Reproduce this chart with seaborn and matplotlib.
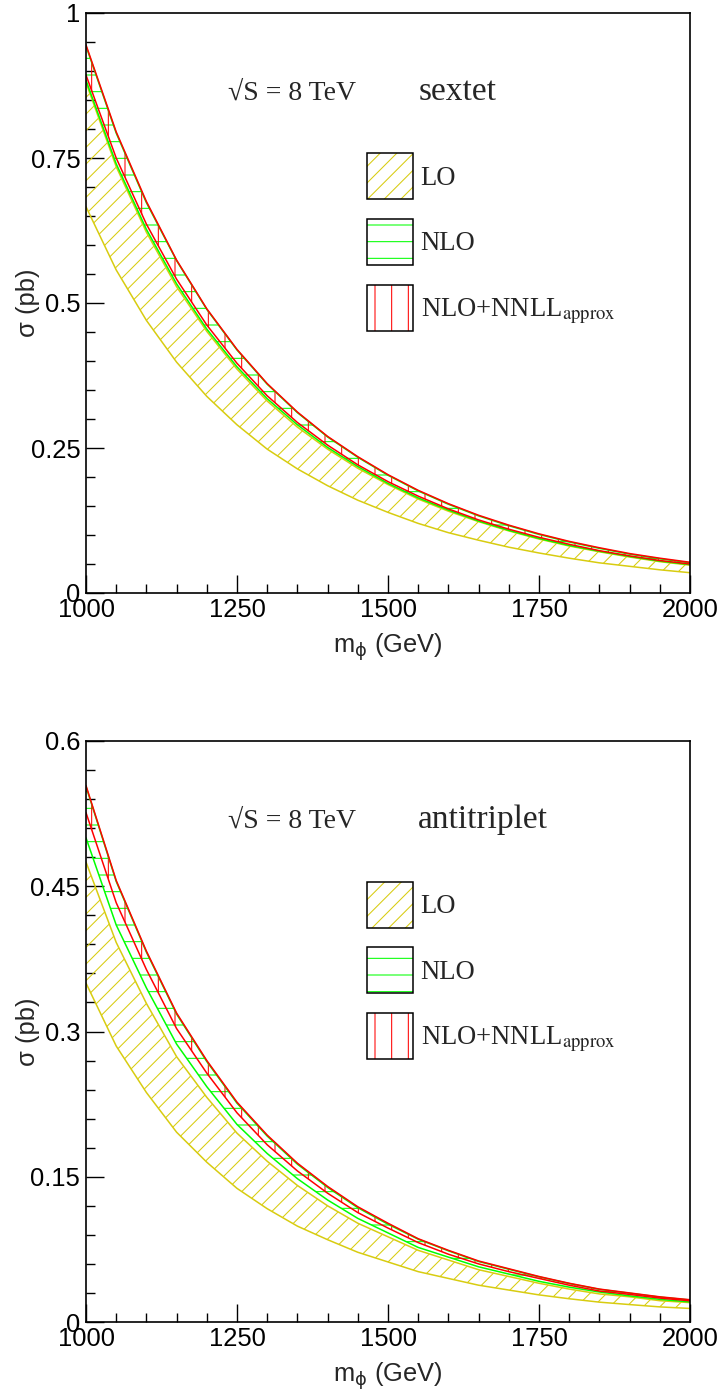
import matplotlib
matplotlib.use('Agg')

import matplotlib.pyplot as plt
import pandas as pd
import seaborn as sns
from matplotlib.font_manager import FontProperties
from matplotlib.legend_handler import HandlerTuple
from matplotlib.patches import Patch
from matplotlib.ticker import FuncFormatter, MultipleLocator

# scalar mass (GeV)
mass = [1000, 1050, 1100, 1150, 1200, 1250, 1300, 1350, 1400, 1450, 1500,
        1550, 1600, 1650, 1700, 1750, 1800, 1850, 1900, 1950, 2000]

# sextet cross sections (pb), band edges
sextet_lo_low = [0.666, 0.557, 0.470, 0.398, 0.339, 0.290, 0.248, 0.214, 0.185, 0.160, 0.139,
                 0.120, 0.104, 0.091, 0.079, 0.069, 0.060, 0.052, 0.046, 0.040, 0.035]
sextet_lo_high = [0.880, 0.735, 0.622, 0.528, 0.451, 0.386, 0.331, 0.286, 0.248, 0.215, 0.187,
                  0.162, 0.141, 0.123, 0.107, 0.093, 0.081, 0.071, 0.062, 0.054, 0.048]
sextet_nlo_low = [0.884, 0.740, 0.627, 0.533, 0.455, 0.390, 0.335, 0.290, 0.251, 0.218, 0.189,
                  0.164, 0.143, 0.124, 0.108, 0.094, 0.082, 0.072, 0.063, 0.055, 0.049]
sextet_nlo_high = [0.943, 0.793, 0.673, 0.573, 0.489, 0.419, 0.360, 0.311, 0.269, 0.234, 0.203,
                   0.176, 0.153, 0.133, 0.116, 0.101, 0.088, 0.077, 0.067, 0.059, 0.052]
sextet_nnll_low = [0.893, 0.750, 0.636, 0.541, 0.462, 0.396, 0.340, 0.294, 0.255, 0.221, 0.192,
                   0.167, 0.145, 0.126, 0.110, 0.096, 0.084, 0.073, 0.064, 0.056, 0.050]
sextet_nnll_high = [0.945, 0.795, 0.675, 0.574, 0.490, 0.420, 0.361, 0.312, 0.270, 0.235, 0.204,
                    0.177, 0.154, 0.134, 0.117, 0.102, 0.089, 0.078, 0.068, 0.060, 0.053]

# antitriplet cross sections (pb), band edges
anti_lo_low = [0.350, 0.285, 0.237, 0.196, 0.165, 0.138, 0.117, 0.099, 0.085, 0.072, 0.062,
               0.052, 0.045, 0.038, 0.033, 0.028, 0.024, 0.0205, 0.018, 0.0156, 0.014]
anti_lo_high = [0.475, 0.392, 0.329, 0.274, 0.232, 0.195, 0.166, 0.141, 0.120, 0.102, 0.088,
                0.074, 0.064, 0.054, 0.047, 0.040, 0.034, 0.029, 0.026, 0.022, 0.020]
anti_nlo_low = [0.500, 0.410, 0.345, 0.287, 0.243, 0.204, 0.174, 0.148, 0.126, 0.107, 0.092,
                0.077, 0.067, 0.057, 0.0495, 0.042, 0.036, 0.031, 0.027, 0.0234, 0.0207]
anti_nlo_high = [0.553, 0.455, 0.382, 0.318, 0.269, 0.226, 0.192, 0.163, 0.139, 0.118, 0.101,
                 0.0855, 0.0735, 0.0625, 0.0545, 0.0466, 0.0397, 0.0337, 0.0297, 0.0257, 0.0227]
anti_nnll_low = [0.526, 0.433, 0.364, 0.303, 0.257, 0.216, 0.183, 0.156, 0.133, 0.113, 0.097,
                 0.082, 0.070, 0.060, 0.052, 0.045, 0.038, 0.032, 0.0285, 0.0247, 0.0219]
anti_nnll_high = [0.554, 0.456, 0.383, 0.319, 0.270, 0.227, 0.193, 0.164, 0.140, 0.119, 0.102,
                  0.086, 0.074, 0.063, 0.055, 0.047, 0.040, 0.034, 0.030, 0.026, 0.023]

legend_labels = ['LO', 'NLO', r'NLO+NNLL$_{\mathrm{approx}}$']

LO_COLOR = '#d8cc10'
NLO_COLOR = '#00ff00'
NNLL_COLOR = '#ff0000'
DPI = 100

sns.set_theme(style='ticks')
plt.rcParams['font.family'] = ['Liberation Sans', 'DejaVu Sans']
plt.rcParams['hatch.linewidth'] = 0.75
plt.rcParams['axes.linewidth'] = 1.2


def draw_band(ax, low, high, color, hatch):
    ax.fill_between(mass, low, high, facecolor='none', edgecolor=color, hatch=hatch, linewidth=0)
    for edge in (low, high):
        df = pd.DataFrame({'mass': mass, 'sigma': edge})
        sns.lineplot(data=df, x='mass', y='sigma', color=color, linewidth=1.1, ax=ax, legend=False)


def draw_panel(ax, bands, ymax, ymajor, yminor, name):
    styles = [(LO_COLOR, '//'), (NLO_COLOR, '-'), (NNLL_COLOR, '|')]
    for (low, high), (color, hatch) in zip(bands, styles):
        draw_band(ax, low, high, color, hatch)

    ax.set_xlim(1000, 2000)
    ax.set_ylim(0, ymax)
    ax.xaxis.set_major_locator(MultipleLocator(250))
    ax.xaxis.set_minor_locator(MultipleLocator(50))
    ax.yaxis.set_major_locator(MultipleLocator(ymajor))
    ax.yaxis.set_minor_locator(MultipleLocator(yminor))
    ax.yaxis.set_major_formatter(FuncFormatter(lambda v, p: f'{v:g}'))
    ax.tick_params(which='both', direction='in', top=False, right=False, colors='black', width=1.0)
    ax.tick_params(which='major', length=13, labelsize=18.4)
    ax.tick_params(axis='x', which='major', pad=3.6)
    ax.tick_params(axis='y', which='major', pad=4.2)
    ax.tick_params(which='minor', length=6.5)
    for side in ax.spines.values():
        side.set_visible(True)
        side.set_color('black')

    ax.set_xlabel(r'm$_{\mathrm{\phi}}$ (GeV)', fontsize=18.4)
    ax.set_ylabel('\u03c3 (pb)', fontsize=18.4)
    ax.xaxis.label.set_math_fontfamily('dejavusans')
    ax.xaxis.set_label_coords(0.5, -0.067)
    ax.yaxis.set_label_coords(-0.076, 0.5)

    serif = ['Liberation Serif', 'DejaVu Serif']
    ax.text(0.235, 0.850, '\u221aS = 8 TeV', transform=ax.transAxes, family=serif,
            fontsize=20, va='baseline', ha='left')
    ax.text(0.55, 0.850, name, transform=ax.transAxes, family=serif,
            fontsize=24, va='baseline', ha='left')

    handles = []
    for color, hatch in styles:
        handles.append((Patch(facecolor='none', edgecolor=color, hatch=hatch, linewidth=0),
                        Patch(facecolor='none', edgecolor='black', linewidth=1.1)))
    ax.legend(handles, legend_labels, handler_map={tuple: HandlerTuple(ndivide=1, pad=0)},
              loc='upper left', bbox_to_anchor=(0.466, 0.758), frameon=False,
              borderpad=0, borderaxespad=0, handlelength=1.69, handleheight=2.277,
              handletextpad=0.3, labelspacing=0.74,
              prop=FontProperties(family='Liberation Serif', size=19.2, math_fontfamily='stix'))


fig = plt.figure(figsize=(723 / DPI, 1397 / DPI), dpi=DPI)
ax_top = fig.add_axes([86 / 723, 1 - 593 / 1397, 604 / 723, 580 / 1397])
ax_bot = fig.add_axes([86 / 723, 1 - 1322 / 1397, 604 / 723, 581 / 1397])

draw_panel(ax_top, [(sextet_lo_low, sextet_lo_high), (sextet_nlo_low, sextet_nlo_high),
                    (sextet_nnll_low, sextet_nnll_high)], 1.0, 0.25, 0.05, 'sextet')
draw_panel(ax_bot, [(anti_lo_low, anti_lo_high), (anti_nlo_low, anti_nlo_high),
                    (anti_nnll_low, anti_nnll_high)], 0.6, 0.15, 0.03, 'antitriplet')

fig.savefig('out.png', dpi=DPI)
